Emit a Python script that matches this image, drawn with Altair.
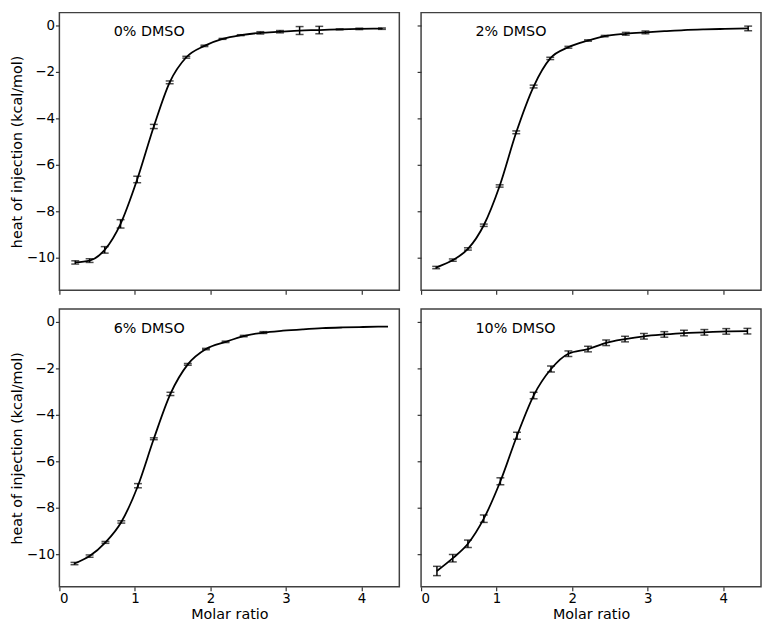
import altair as alt
import pandas as pd

FONT = "DejaVu Sans"

LABELS = ["0% DMSO", "2% DMSO", "6% DMSO", "10% DMSO"]

X0 = [0.21, 0.40, 0.60, 0.81, 1.03, 1.25, 1.46, 1.68, 1.92, 2.16, 2.40, 2.66, 2.92, 3.18, 3.44, 3.71, 3.97, 4.27]
Y0 = [-10.20, -10.12, -9.66, -8.54, -6.63, -4.35, -2.45, -1.37, -0.88, -0.58, -0.42, -0.32, -0.27, -0.22, -0.20, -0.17, -0.15, -0.14]
E0 = [0.07, 0.08, 0.14, 0.18, 0.14, 0.09, 0.06, 0.04, 0.03, 0.02, 0.02, 0.05, 0.05, 0.17, 0.16, 0.02, 0.03, 0.03]

X2 = [0.20, 0.42, 0.62, 0.83, 1.04, 1.26, 1.49, 1.71, 1.95, 2.21, 2.43, 2.71, 2.97, 3.22, 3.48, 3.75, 4.02, 4.33]
Y2 = [-10.42, -10.10, -9.62, -8.60, -6.91, -4.60, -2.63, -1.42, -0.94, -0.65, -0.46, -0.36, -0.30, -0.25, -0.20, -0.17, -0.15, -0.13]
E2 = [0.05, 0.05, 0.05, 0.05, 0.05, 0.06, 0.06, 0.05, 0.04, 0.03, 0.03, 0.06, 0.06, 0, 0, 0, 0, 0.10]

X6 = [0.20, 0.40, 0.61, 0.82, 1.04, 1.25, 1.47, 1.70, 1.94, 2.20, 2.44, 2.70, 2.96, 3.22, 3.48, 3.75, 4.02, 4.35]
Y6 = [-10.40, -10.08, -9.49, -8.61, -7.05, -5.03, -3.10, -1.83, -1.17, -0.86, -0.61, -0.46, -0.38, -0.32, -0.27, -0.24, -0.22, -0.20]
E6 = [0.05, 0.05, 0.04, 0.05, 0.09, 0.04, 0.07, 0.04, 0.03, 0.03, 0.03, 0.04, 0, 0, 0, 0, 0, 0]

X10 = [0.21, 0.42, 0.62, 0.83, 1.05, 1.27, 1.49, 1.72, 1.95, 2.21, 2.45, 2.70, 2.95, 3.22, 3.48, 3.75, 4.04, 4.32]
Y10 = [-10.72, -10.17, -9.55, -8.47, -6.86, -4.90, -3.17, -2.03, -1.37, -1.17, -0.90, -0.74, -0.62, -0.54, -0.48, -0.45, -0.41, -0.40]
E10 = [0.20, 0.16, 0.16, 0.16, 0.15, 0.15, 0.14, 0.13, 0.12, 0.12, 0.12, 0.12, 0.12, 0.12, 0.12, 0.12, 0.12, 0.12]

X_TICKS = [0, 1, 2, 3, 4]
Y_TICKS = [0, -2, -4, -6, -8, -10]

W = 344
H = 281


def panel(xs, ys, es, label, show_x, show_y):
    df = pd.DataFrame({"x": xs, "y": ys, "e": es})
    df["lo"] = df["y"] - df["e"]
    df["hi"] = df["y"] + df["e"]
    bars = df[df["e"] > 0]

    xaxis = alt.Axis(values=X_TICKS, labels=show_x, format="d",
                     title="Molar ratio" if show_x else None, titlePadding=3)
    yaxis = alt.Axis(values=Y_TICKS, labels=show_y, format="d",
                     title="heat of injection (kcal/mol)" if show_y else None, titlePadding=2)
    xs_ = alt.Scale(domain=[0, 4.5], nice=False, zero=False)
    ys_ = alt.Scale(domain=[-11.4, 0.55], nice=False, zero=False)

    line = alt.Chart(df).mark_line(color="black", strokeWidth=1.8, interpolate="monotone").encode(
        x=alt.X("x:Q", scale=xs_, axis=xaxis),
        y=alt.Y("y:Q", scale=ys_, axis=yaxis),
    )
    rule = alt.Chart(bars).mark_rule(color="black", strokeWidth=1.5).encode(
        x="x:Q", y="lo:Q", y2="hi:Q"
    )
    caps = alt.Chart(bars).transform_fold(["lo", "hi"], as_=["k", "v"]).mark_tick(
        color="black", orient="horizontal", size=8, thickness=1.5
    ).encode(x="x:Q", y="v:Q")
    txt = alt.Chart(pd.DataFrame({"t": [label]})).mark_text(
        align="left", baseline="middle", fontSize=14.5, font=FONT, color="black"
    ).encode(x=alt.value(55), y=alt.value(20), text="t:N")
    return alt.layer(line, rule, caps, txt).properties(width=W, height=H)


p0 = panel(X0, Y0, E0, LABELS[0], False, True)
p2 = panel(X2, Y2, E2, LABELS[1], False, False)
p6 = panel(X6, Y6, E6, LABELS[2], True, True)
p10 = panel(X10, Y10, E10, LABELS[3], True, False)

chart = alt.concat(
    p0, p2, p6, p10, columns=2, spacing={"row": 19, "column": 22}, bounds="flush",
    padding={"left": 0, "top": 0, "right": 0, "bottom": 0},
).configure(
    background="white"
).configure_view(
    stroke="#404040", strokeWidth=1.5
).configure_axis(
    domain=False, grid=False, ticks=True, tickSize=4, tickWidth=1.2, tickColor="#333333",
    labelFont=FONT, labelFontSize=13.5, labelColor="black", labelPadding=1,
    titleFont=FONT, titleFontSize=14.5, titleFontWeight="normal", titleColor="black",
)

chart.save("out.html", embed_options={"renderer": "svg", "actions": False})
